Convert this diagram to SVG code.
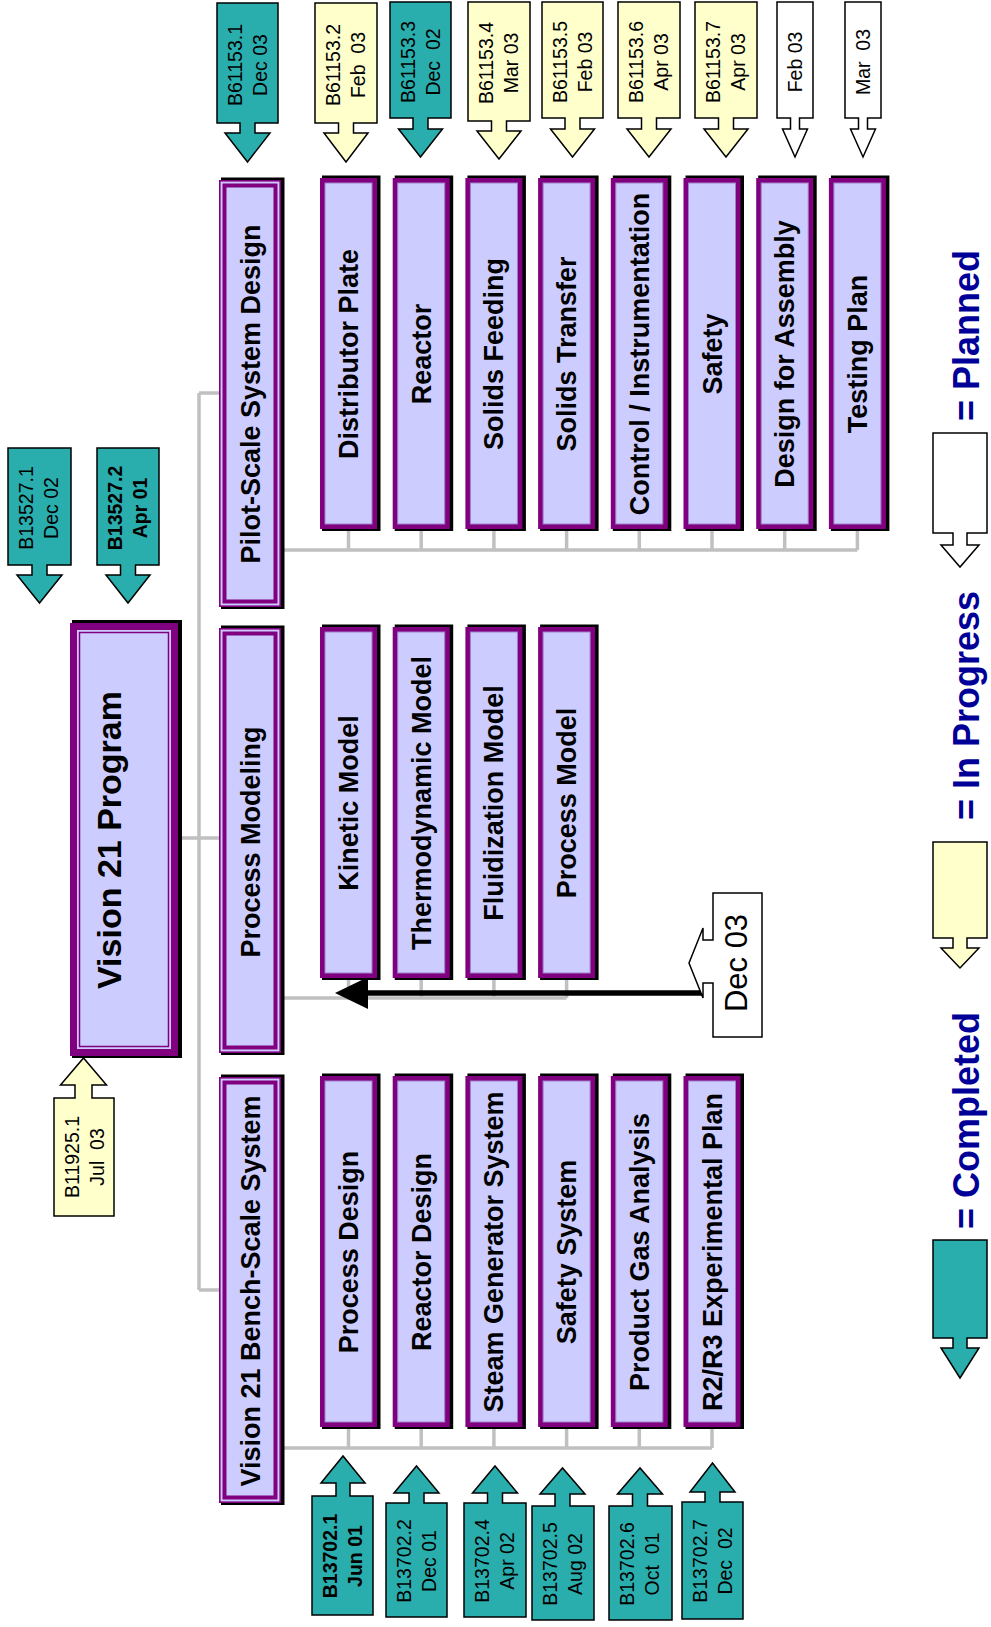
<svg xmlns="http://www.w3.org/2000/svg" width="991" height="1627" viewBox="0 0 991 1627">
<style>
.sh{fill:#000}
.ob{fill:#800080}
.ib{fill:#CCCCFF;stroke:#A080C8;stroke-width:1}
.l2o{fill:#CCCCFF;stroke:#800080;stroke-width:1.6}
.l2i{fill:none;stroke:#800080;stroke-width:4}
.lbl{font-family:"Liberation Sans",Arial,sans-serif;font-weight:bold;font-size:27px;fill:#000;white-space:pre}
.ttl{font-family:"Liberation Sans",Arial,sans-serif;font-weight:bold;font-size:34px;fill:#000;white-space:pre}
.ct{font-family:"Liberation Sans",Arial,sans-serif;font-size:19.5px;fill:#000;white-space:pre}
.ctb{font-family:"Liberation Sans",Arial,sans-serif;font-size:19.5px;font-weight:bold;fill:#000;white-space:pre}
.teal{fill:#2AAEAD;stroke:#000;stroke-width:1.5;stroke-linejoin:miter}
.yel{fill:#FFFFCC;stroke:#000;stroke-width:1.5}
.wht{fill:#FFFFFF;stroke:#000;stroke-width:1.5}
.con{fill:none;stroke:#C0C0C0;stroke-width:3.5}
.leg{font-family:"Liberation Sans",Arial,sans-serif;font-weight:bold;font-size:36px;fill:#000099;white-space:pre}
.big{font-family:"Liberation Sans",Arial,sans-serif;font-size:31px;fill:#000;white-space:pre}
</style>

<g id="connectors">
<path class="con" d="M178 838 H199 M199 393 V1290 M199 393 H219 M199 838 H219 M199 1290 H219"/>
<path class="con" d="M281 550 H857.4 M348.5 529 V550 M421.2 529 V550 M493.9 529 V550 M566.6 529 V550 M639.3 529 V550 M712 529 V550 M784.7 529 V550 M857.4 529 V550"/>
<path class="con" d="M281 998 H566.6 M348.5 978 V998 M421.2 978 V998 M493.9 978 V998 M566.6 978 V998"/>
<path class="con" d="M281 1448 H712 M348.5 1427 V1448 M421.2 1427 V1448 M493.9 1427 V1448 M566.6 1427 V1448 M639.3 1427 V1448 M712 1427 V1448"/>
<path d="M703 993 H366" stroke="#000" stroke-width="5.5" fill="none"/>
<polygon points="368,977 335,993 368,1009" fill="#000"/>
</g>

<!-- Top node -->
<g id="vision21">
<rect class="sh" x="72" y="620" width="110" height="438"/>
<rect class="ob" x="70" y="623" width="108" height="433"/>
<rect x="77" y="630" width="94" height="419" fill="#CCCCFF"/>
<rect x="79.5" y="632.5" width="89" height="414" fill="none" stroke="#800080" stroke-width="1.5"/>
<text class="ttl" transform="translate(121,840) rotate(-90)" text-anchor="middle">Vision 21 Program</text>
</g>

<!-- Level 2 -->
<g id="pilot">
<rect class="sh" x="221" y="177.5" width="63.5" height="431.5"/>
<rect class="l2o" x="219.8" y="180.8" width="60.4" height="425.4"/>
<rect class="l2i" x="224.5" y="185.5" width="51" height="416"/>
<text class="lbl" transform="translate(259.5,394) rotate(-90)" text-anchor="middle">Pilot-Scale System Design</text>
</g>
<g id="processmodeling">
<rect class="sh" x="221" y="625.5" width="63.5" height="429.5"/>
<rect class="l2o" x="219.8" y="628.8" width="60.4" height="423.4"/>
<rect class="l2i" x="224.5" y="633.5" width="51" height="414"/>
<text class="lbl" transform="translate(259.5,842) rotate(-90)" text-anchor="middle">Process Modeling</text>
</g>
<g id="bench">
<rect class="sh" x="221" y="1074.5" width="63.5" height="430.5"/>
<rect class="l2o" x="219.8" y="1077.8" width="60.4" height="424.4"/>
<rect class="l2i" x="224.5" y="1082.5" width="51" height="415"/>
<text class="lbl" transform="translate(259.5,1291) rotate(-90)" text-anchor="middle">Vision 21 Bench-Scale System</text>
</g>

<!-- Pilot children -->
<g id="distributor"><rect class="sh" x="322" y="175.5" width="58.5" height="355.5"/><rect class="ob" x="320" y="178" width="57" height="351"/><rect class="ib" x="325" y="183" width="47" height="341"/><text class="lbl" transform="translate(358,354) rotate(-90)" text-anchor="middle">Distributor Plate</text></g>
<g id="reactor"><rect class="sh" x="394.7" y="175.5" width="58.5" height="355.5"/><rect class="ob" x="392.7" y="178" width="57" height="351"/><rect class="ib" x="397.7" y="183" width="47" height="341"/><text class="lbl" transform="translate(430.7,354) rotate(-90)" text-anchor="middle">Reactor</text></g>
<g id="solidsfeeding"><rect class="sh" x="467.4" y="175.5" width="58.5" height="355.5"/><rect class="ob" x="465.4" y="178" width="57" height="351"/><rect class="ib" x="470.4" y="183" width="47" height="341"/><text class="lbl" transform="translate(503.4,354) rotate(-90)" text-anchor="middle">Solids Feeding</text></g>
<g id="solidstransfer"><rect class="sh" x="540.1" y="175.5" width="58.5" height="355.5"/><rect class="ob" x="538.1" y="178" width="57" height="351"/><rect class="ib" x="543.1" y="183" width="47" height="341"/><text class="lbl" transform="translate(576.1,354) rotate(-90)" text-anchor="middle">Solids Transfer</text></g>
<g id="control"><rect class="sh" x="612.8" y="175.5" width="58.5" height="355.5"/><rect class="ob" x="610.8" y="178" width="57" height="351"/><rect class="ib" x="615.8" y="183" width="47" height="341"/><text class="lbl" transform="translate(648.8,354) rotate(-90)" text-anchor="middle">Control / Instrumentation</text></g>
<g id="safety"><rect class="sh" x="685.5" y="175.5" width="58.5" height="355.5"/><rect class="ob" x="683.5" y="178" width="57" height="351"/><rect class="ib" x="688.5" y="183" width="47" height="341"/><text class="lbl" transform="translate(721.5,354) rotate(-90)" text-anchor="middle">Safety</text></g>
<g id="dfa"><rect class="sh" x="758.2" y="175.5" width="58.5" height="355.5"/><rect class="ob" x="756.2" y="178" width="57" height="351"/><rect class="ib" x="761.2" y="183" width="47" height="341"/><text class="lbl" transform="translate(794.2,354) rotate(-90)" text-anchor="middle">Design for Assembly</text></g>
<g id="testing"><rect class="sh" x="830.9" y="175.5" width="58.5" height="355.5"/><rect class="ob" x="828.9" y="178" width="57" height="351"/><rect class="ib" x="833.9" y="183" width="47" height="341"/><text class="lbl" transform="translate(866.9,354) rotate(-90)" text-anchor="middle">Testing Plan</text></g>

<!-- PM children -->
<g id="kinetic"><rect class="sh" x="322" y="624.5" width="58.5" height="355.5"/><rect class="ob" x="320" y="627" width="57" height="351"/><rect class="ib" x="325" y="632" width="47" height="341"/><text class="lbl" transform="translate(358,803) rotate(-90)" text-anchor="middle">Kinetic Model</text></g>
<g id="thermo"><rect class="sh" x="394.7" y="624.5" width="58.5" height="355.5"/><rect class="ob" x="392.7" y="627" width="57" height="351"/><rect class="ib" x="397.7" y="632" width="47" height="341"/><text class="lbl" transform="translate(430.7,803) rotate(-90)" text-anchor="middle">Thermodynamic Model</text></g>
<g id="fluid"><rect class="sh" x="467.4" y="624.5" width="58.5" height="355.5"/><rect class="ob" x="465.4" y="627" width="57" height="351"/><rect class="ib" x="470.4" y="632" width="47" height="341"/><text class="lbl" transform="translate(503.4,803) rotate(-90)" text-anchor="middle">Fluidization Model</text></g>
<g id="processmodel"><rect class="sh" x="540.1" y="624.5" width="58.5" height="355.5"/><rect class="ob" x="538.1" y="627" width="57" height="351"/><rect class="ib" x="543.1" y="632" width="47" height="341"/><text class="lbl" transform="translate(576.1,803) rotate(-90)" text-anchor="middle">Process Model</text></g>

<!-- Bench children -->
<g id="processdesign"><rect class="sh" x="322" y="1073.5" width="58.5" height="355.5"/><rect class="ob" x="320" y="1076" width="57" height="351"/><rect class="ib" x="325" y="1081" width="47" height="341"/><text class="lbl" transform="translate(358,1252) rotate(-90)" text-anchor="middle">Process Design</text></g>
<g id="reactordesign"><rect class="sh" x="394.7" y="1073.5" width="58.5" height="355.5"/><rect class="ob" x="392.7" y="1076" width="57" height="351"/><rect class="ib" x="397.7" y="1081" width="47" height="341"/><text class="lbl" transform="translate(430.7,1252) rotate(-90)" text-anchor="middle">Reactor Design</text></g>
<g id="steam"><rect class="sh" x="467.4" y="1073.5" width="58.5" height="355.5"/><rect class="ob" x="465.4" y="1076" width="57" height="351"/><rect class="ib" x="470.4" y="1081" width="47" height="341"/><text class="lbl" transform="translate(503.4,1252) rotate(-90)" text-anchor="middle">Steam Generator System</text></g>
<g id="safetysystem"><rect class="sh" x="540.1" y="1073.5" width="58.5" height="355.5"/><rect class="ob" x="538.1" y="1076" width="57" height="351"/><rect class="ib" x="543.1" y="1081" width="47" height="341"/><text class="lbl" transform="translate(576.1,1252) rotate(-90)" text-anchor="middle">Safety System</text></g>
<g id="productgas"><rect class="sh" x="612.8" y="1073.5" width="58.5" height="355.5"/><rect class="ob" x="610.8" y="1076" width="57" height="351"/><rect class="ib" x="615.8" y="1081" width="47" height="341"/><text class="lbl" transform="translate(648.8,1252) rotate(-90)" text-anchor="middle">Product Gas Analysis</text></g>
<g id="r2r3"><rect class="sh" x="685.5" y="1073.5" width="58.5" height="355.5"/><rect class="ob" x="683.5" y="1076" width="57" height="351"/><rect class="ib" x="688.5" y="1081" width="47" height="341"/><text class="lbl" transform="translate(721.5,1252) rotate(-90)" text-anchor="middle">R2/R3 Experimental Plan</text></g>

<!-- Top callouts (pointing down) -->
<g id="c-b61153-1"><path class="teal" d="M217 3 H278 V123 H255 V133 H270 L247.5 162 L225 133 H240 V123 H217 Z"/><text class="ct" transform="translate(242,65) rotate(-90)" text-anchor="middle"><tspan x="0" y="0">B61153.1</tspan><tspan x="0" y="24.5">Dec 03</tspan></text></g>
<g id="c-b61153-2"><path class="yel" d="M315 3 H377 V123 H353.5 V133 H368 L346 162 L324 133 H338.5 V123 H315 Z"/><text class="ct" transform="translate(340,65) rotate(-90)" text-anchor="middle"><tspan x="0" y="0">B61153.2</tspan><tspan x="0" y="24.5">Feb  03</tspan></text></g>
<g id="c-b61153-3"><path class="teal" d="M390 2 H451 V118 H428 V129 H442.5 L420.5 157 L398.5 129 H413 V118 H390 Z"/><text class="ct" transform="translate(415,62) rotate(-90)" text-anchor="middle"><tspan x="0" y="0">B61153.3</tspan><tspan x="0" y="24.5">Dec  02</tspan></text></g>
<g id="c-b61153-4"><path class="yel" d="M468 2 H530 V121 H506.5 V131 H521 L499 159 L477 131 H491.5 V121 H468 Z"/><text class="ct" transform="translate(493,63) rotate(-90)" text-anchor="middle"><tspan x="0" y="0">B61153.4</tspan><tspan x="0" y="24.5">Mar 03</tspan></text></g>
<g id="c-b61153-5"><path class="yel" d="M542 2 H603 V118 H580 V129 H594.5 L572.5 157 L550.5 129 H565 V118 H542 Z"/><text class="ct" transform="translate(567,62) rotate(-90)" text-anchor="middle"><tspan x="0" y="0">B61153.5</tspan><tspan x="0" y="24.5">Feb 03</tspan></text></g>
<g id="c-b61153-6"><path class="yel" d="M618 2 H680 V118 H656.5 V129 H671 L649 157 L627 129 H641.5 V118 H618 Z"/><text class="ct" transform="translate(643,62) rotate(-90)" text-anchor="middle"><tspan x="0" y="0">B61153.6</tspan><tspan x="0" y="24.5">Apr 03</tspan></text></g>
<g id="c-b61153-7"><path class="yel" d="M695 2 H757 V118 H733.5 V129 H748 L726 157 L704 129 H718.5 V118 H695 Z"/><text class="ct" transform="translate(720,62) rotate(-90)" text-anchor="middle"><tspan x="0" y="0">B61153.7</tspan><tspan x="0" y="24.5">Apr 03</tspan></text></g>
<g id="c-feb03"><path class="wht" d="M777 2 H813 V118 H799.5 V129 H807.5 L795 157 L782.5 129 H790.5 V118 H777 Z"/><text class="ct" transform="translate(802,62) rotate(-90)" text-anchor="middle">Feb 03</text></g>
<g id="c-mar03"><path class="wht" d="M845 2 H881 V118 H867.5 V129 H875.5 L863 157 L850.5 129 H858.5 V118 H845 Z"/><text class="ct" transform="translate(870,62) rotate(-90)" text-anchor="middle">Mar  03</text></g>

<g id="c-b13527-1"><path class="teal" d="M8 448 H71 V565 H47 V575 H62 L39.5 603 L17 575 H32 V565 H8 Z"/><text class="ct" transform="translate(33,508) rotate(-90)" text-anchor="middle"><tspan x="0" y="0">B13527.1</tspan><tspan x="0" y="24.5">Dec 02</tspan></text></g>
<g id="c-b13527-2"><path class="teal" d="M97 448 H159 V565 H135.5 V575 H150 L128 603 L106 575 H120.5 V565 H97 Z"/><text class="ctb" transform="translate(122,508) rotate(-90)" text-anchor="middle"><tspan x="0" y="0">B13527.2</tspan><tspan x="0" y="24.5">Apr 01</tspan></text></g>

<!-- Upward callouts -->
<g id="c-b11925-1"><path class="yel" d="M54 1216 H114 V1098 H92 V1085 H106.5 L83.5 1058 L60.5 1085 H75 V1098 H54 Z"/><text class="ct" transform="translate(79,1157) rotate(-90)" text-anchor="middle"><tspan x="0" y="0">B11925.1</tspan><tspan x="0" y="24.5">Jul  03</tspan></text></g>
<g id="c-b13702-1"><path class="teal" d="M312 1615 H373 V1496 H350 V1483 H365 L343 1456 L321 1483 H336 V1496 H312 Z"/><text class="ctb" transform="translate(337,1556) rotate(-90)" text-anchor="middle"><tspan x="0" y="0">B13702.1</tspan><tspan x="0" y="24.5">Jun 01</tspan></text></g>
<g id="c-b13702-2"><path class="teal" d="M386 1617 H447 V1503 H424 V1493 H439 L416.5 1466 L394 1493 H409 V1503 H386 Z"/><text class="ct" transform="translate(411,1561) rotate(-90)" text-anchor="middle"><tspan x="0" y="0">B13702.2</tspan><tspan x="0" y="24.5">Dec 01</tspan></text></g>
<g id="c-b13702-4"><path class="teal" d="M464 1617 H526 V1503 H502.5 V1493 H517.5 L495 1466 L472.5 1493 H487.5 V1503 H464 Z"/><text class="ct" transform="translate(489,1561) rotate(-90)" text-anchor="middle"><tspan x="0" y="0">B13702.4</tspan><tspan x="0" y="24.5">Apr 02</tspan></text></g>
<g id="c-b13702-5"><path class="teal" d="M532 1620 H594 V1506 H570 V1494 H585 L562.5 1468 L540 1494 H555 V1506 H532 Z"/><text class="ct" transform="translate(557,1564) rotate(-90)" text-anchor="middle"><tspan x="0" y="0">B13702.5</tspan><tspan x="0" y="24.5">Aug 02</tspan></text></g>
<g id="c-b13702-6"><path class="teal" d="M609 1620 H672 V1506 H647.5 V1494 H662.5 L640 1468 L617.5 1494 H632.5 V1506 H609 Z"/><text class="ct" transform="translate(634,1564) rotate(-90)" text-anchor="middle"><tspan x="0" y="0">B13702.6</tspan><tspan x="0" y="24.5">Oct  01</tspan></text></g>
<g id="c-b13702-7"><path class="teal" d="M682 1619 H743 V1502 H720 V1492 H735 L712.5 1463 L690 1492 H705 V1502 H682 Z"/><text class="ct" transform="translate(707,1561) rotate(-90)" text-anchor="middle"><tspan x="0" y="0">B13702.7</tspan><tspan x="0" y="24.5">Dec  02</tspan></text></g>

<!-- Dec 03 left-pointing callout -->
<g id="c-dec03"><path class="wht" d="M762 893 V1037 H713 V983 H703 V998 L689 963 L703 928 V940 H713 V893 Z"/><text class="big" transform="translate(747,963) rotate(-90)" text-anchor="middle">Dec 03</text></g>

<!-- Legend -->
<g id="legend-planned"><path class="wht" d="M933 433 H987 V533 H967 V545 H979 L960 567 L941 545 H953 V533 H933 Z"/><text class="leg" transform="translate(979,421) rotate(-90)">= Planned</text></g>
<g id="legend-inprogress"><path class="yel" d="M933 842 H987 V938 H967 V948 H979 L960 968 L941 948 H953 V938 H933 Z"/><text class="leg" transform="translate(979,820) rotate(-90)">= In Progress</text></g>
<g id="legend-completed"><path class="teal" d="M933 1240 H987 V1338 H967 V1348 H979 L960 1378 L941 1348 H953 V1338 H933 Z"/><text class="leg" transform="translate(979,1229) rotate(-90)">= Completed</text></g>
</svg>
